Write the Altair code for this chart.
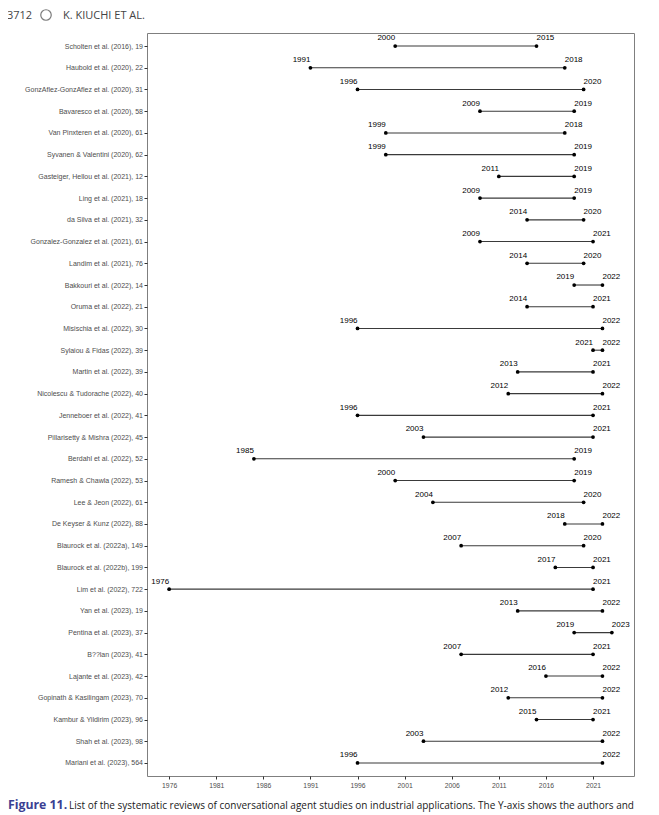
import altair as alt
import pandas as pd

labels = [
    "Scholten  et al. (2016), 19",
    "Haubold  et al. (2020), 22",
    "GonzAflez-GonzAflez  et al. (2020), 31",
    "Bavaresco  et al. (2020), 58",
    "Van Pinxteren et al. (2020), 61",
    "Syvanen & Valentini (2020), 62",
    "Gasteiger, Hellou et al. (2021), 12",
    "Ling  et al. (2021), 18",
    "da Silva et al. (2021), 32",
    "Gonzalez-Gonzalez  et al. (2021), 61",
    "Landim  et al. (2021), 76",
    "Bakkouri  et al. (2022), 14",
    "Oruma  et al. (2022), 21",
    "Misischia  et al. (2022), 30",
    "Sylaiou & Fidas (2022), 39",
    "Martin  et al. (2022), 39",
    "Nicolescu & Tudorache (2022), 40",
    "Jenneboer  et al. (2022), 41",
    "Pillarisetty & Mishra (2022), 45",
    "Berdahl  et al. (2022), 52",
    "Ramesh & Chawla (2022), 53",
    "Lee & Jeon (2022), 61",
    "De Keyser & Kunz (2022), 88",
    "Blaurock  et al. (2022a), 149",
    "Blaurock  et al. (2022b), 199",
    "Lim  et al. (2022), 722",
    "Yan  et al. (2023), 19",
    "Pentina  et al. (2023), 37",
    "B??lan (2023), 41",
    "Lajante  et al. (2023), 42",
    "Gopinath & Kasilingam (2023), 70",
    "Kambur & Yildirim (2023), 96",
    "Shah  et al. (2023), 98",
    "Mariani  et al. (2023), 564",
]
start_years = [2000, 1991, 1996, 2009, 1999, 1999, 2011, 2009, 2014, 2009, 2014,
               2019, 2014, 1996, 2021, 2013, 2012, 1996, 2003, 1985, 2000, 2004,
               2018, 2007, 2017, 1976, 2013, 2019, 2007, 2016, 2012, 2015, 2003, 1996]
end_years = [2015, 2018, 2020, 2019, 2018, 2019, 2019, 2019, 2020, 2021, 2020,
             2022, 2021, 2022, 2022, 2021, 2022, 2021, 2021, 2019, 2019, 2020,
             2022, 2020, 2021, 2021, 2022, 2023, 2021, 2022, 2022, 2021, 2022, 2022]
x_ticks = [1976, 1981, 1986, 1991, 1996, 2001, 2006, 2011, 2016, 2021]

header_left = "3712"
header_right = "K. KIUCHI ET AL."
caption_bold = "Figure 11."
caption_rest = ("List of the systematic reviews of conversational agent studies on industrial "
                "applications. The Y-axis shows the authors and")

df = pd.DataFrame({"label": labels, "start": start_years, "end": end_years})
df["start_txt"] = df["start"].astype(str)
df["end_txt"] = df["end"].astype(str)

FONT = "Liberation Sans"
x_scale = alt.Scale(domain=[1973.65, 2025.35], nice=False, zero=False)
x_axis = alt.Axis(values=x_ticks, format="d", title=None, labelFontSize=6.8,
                  labelColor="#4d4d4d", labelFont=FONT, tickColor="#333333",
                  tickSize=3, domain=False, grid=False, labelPadding=3)
y_scale = alt.Scale(type="point", padding=0.6, domain=labels)
y_axis = alt.Axis(title=None, labelFontSize=7, labelColor="#4d4d4d", labelFont=FONT,
                  tickColor="#333333", tickSize=3, domain=False, grid=False,
                  labelPadding=1.5, labelLimit=300)
Y = alt.Y("label:N", scale=y_scale, axis=y_axis)

base = alt.Chart(df)
rule = base.mark_rule(color="#3a3a3a", strokeWidth=1.1).encode(
    x=alt.X("start:Q", scale=x_scale, axis=x_axis), x2="end:Q", y=Y)
pts_s = base.mark_circle(size=14, color="black", opacity=1).encode(
    x=alt.X("start:Q", scale=x_scale), y=Y)
pts_e = base.mark_circle(size=14, color="black", opacity=1).encode(
    x=alt.X("end:Q", scale=x_scale), y=Y)
txt_s = base.mark_text(fontSize=8, font=FONT, dx=0, dy=-5.6, align="right",
                       baseline="alphabetic", color="black").encode(
    x=alt.X("start:Q", scale=x_scale), y=Y, text="start_txt:N")
txt_e = base.mark_text(fontSize=8, font=FONT, dx=0, dy=-5.6, align="left",
                       baseline="alphabetic", color="black").encode(
    x=alt.X("end:Q", scale=x_scale), y=Y, text="end_txt:N")

cap_df = pd.DataFrame({"b": [caption_bold], "r": [caption_rest],
                       "h1": [header_left], "h2": [header_right]})
cap = alt.Chart(cap_df)
cap1 = cap.mark_text(font="Open Sans", fontWeight="bold", fontSize=12.3, align="left",
                     baseline="alphabetic", color="#3b3f93").encode(
    x=alt.value(-139), y=alt.value(776), text="b:N")
cap2 = cap.mark_text(font="Open Sans", fontSize=10.0, align="left",
                     baseline="alphabetic", color="#1a1a1a").encode(
    x=alt.value(-78), y=alt.value(776), text="r:N")
hd1 = cap.mark_text(font="Open Sans", fontSize=11, align="left",
                    baseline="alphabetic", color="#444444").encode(
    x=alt.value(-140), y=alt.value(-14), text="h1:N")
hd2 = cap.mark_text(font="Open Sans", fontSize=11, align="left",
                    baseline="alphabetic", color="#444444").encode(
    x=alt.value(-84), y=alt.value(-14), text="h2:N")
icon = cap.mark_point(shape="circle", size=110, color="#444444", strokeWidth=1.2).encode(
    x=alt.value(-101), y=alt.value(-18))

chart = alt.layer(rule, pts_s, pts_e, txt_s, txt_e, cap1, cap2, hd1, hd2, icon).properties(
    width=487, height=743,
    autosize=alt.AutoSizeParams(type="none"),
    padding={"left": 139, "top": 25, "right": 9, "bottom": 44},
).configure_view(stroke="#7f7f7f", strokeWidth=1)

chart.save("out.html", embed_options={"renderer": "svg", "actions": False})
